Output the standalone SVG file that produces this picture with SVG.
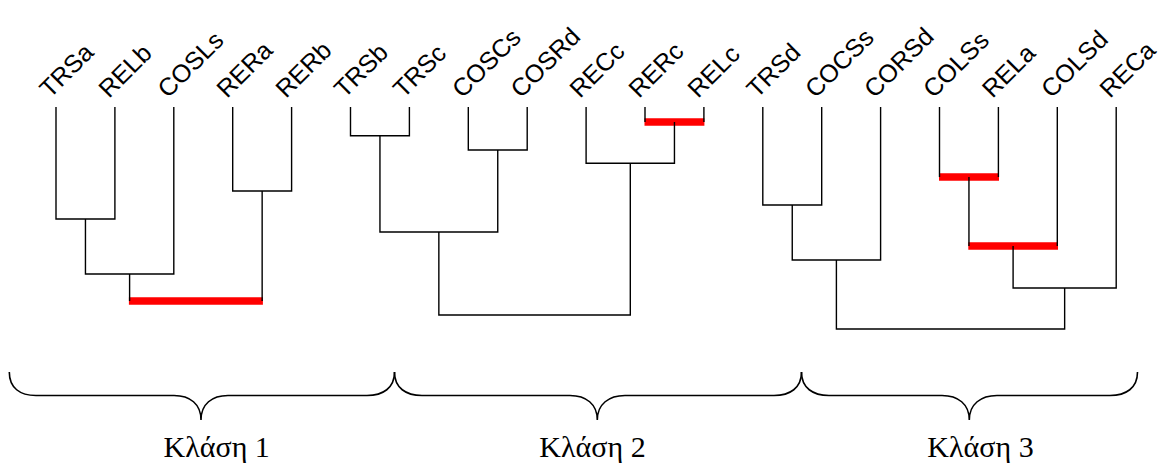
<svg xmlns="http://www.w3.org/2000/svg" width="1171" height="464" viewBox="0 0 1171 464">
  <style>
    .leaf text { font-family: "Liberation Sans", Arial, sans-serif; font-size: 25px; fill: #000; }
    .link { fill: none; stroke: #000; stroke-width: 1.4; }
    .cut { fill: none; stroke: #ff0000; stroke-width: 7.6; stroke-linecap: butt; }
    .brace { fill: none; stroke: #000; stroke-width: 1.6; }
    .cls { font-family: "Liberation Serif", "Times New Roman", serif; font-size: 30px; fill: #000; text-anchor: middle; }
  </style>
  <rect width="1171" height="464" fill="#fff"/>

  <!-- leaf labels, each turned 45 degrees about its baseline start -->
  <g class="leaf">
    <g id="leaf-TRSa" transform="translate(50,99) rotate(-45)"><text>TRSa</text></g>
    <g id="leaf-RELb" transform="translate(109,99) rotate(-45)"><text>RELb</text></g>
    <g id="leaf-COSLs" transform="translate(168,99) rotate(-45)"><text>COSLs</text></g>
    <g id="leaf-RERa" transform="translate(227,99) rotate(-45)"><text>RERa</text></g>
    <g id="leaf-RERb" transform="translate(286,99) rotate(-45)"><text>RERb</text></g>
    <g id="leaf-TRSb" transform="translate(344.5,99) rotate(-45)"><text>TRSb</text></g>
    <g id="leaf-TRSc" transform="translate(403.5,99) rotate(-45)"><text>TRSc</text></g>
    <g id="leaf-COSCs" transform="translate(462.5,99) rotate(-45)"><text>COSCs</text></g>
    <g id="leaf-COSRd" transform="translate(521,99) rotate(-45)"><text>COSRd</text></g>
    <g id="leaf-RECc" transform="translate(580,99) rotate(-45)"><text>RECc</text></g>
    <g id="leaf-RERc" transform="translate(639,99) rotate(-45)"><text>RERc</text></g>
    <g id="leaf-RELc" transform="translate(698,99) rotate(-45)"><text>RELc</text></g>
    <g id="leaf-TRSd" transform="translate(757,99) rotate(-45)"><text>TRSd</text></g>
    <g id="leaf-COCSs" transform="translate(815.5,99) rotate(-45)"><text>COCSs</text></g>
    <g id="leaf-CORSd" transform="translate(874.5,99) rotate(-45)"><text>CORSd</text></g>
    <g id="leaf-COLSs" transform="translate(933.5,99) rotate(-45)"><text>COLSs</text></g>
    <g id="leaf-RELa" transform="translate(992.5,99) rotate(-45)"><text>RELa</text></g>
    <g id="leaf-COLSd" transform="translate(1051.5,99) rotate(-45)"><text>COLSd</text></g>
    <g id="leaf-RECa" transform="translate(1110,99) rotate(-45)"><text>RECa</text></g>
  </g>

  <!-- dendrogram links -->
  <g id="connectors">
    <!-- red bars mark the cut merges -->
    <line class="cut" x1="128.9" y1="301" x2="262.9" y2="301"/>
    <line class="cut" x1="644.5" y1="122" x2="704.4" y2="122"/>
    <line class="cut" x1="939" y1="177" x2="999" y2="177"/>
    <line class="cut" x1="968.3" y1="246" x2="1058" y2="246"/>

    <!-- group 1 -->
    <path class="link" d="M56,107 V219 H114.9 V107"/>
    <path class="link" d="M85.45,219 V274 H173.8 V107"/>
    <path class="link" d="M232.7,107 V191 H291.6 V107"/>
    <path class="link" d="M129.6,274 V301 M262.15,191 V301"/>

    <!-- group 2 -->
    <path class="link" d="M350.5,107 V135.7 H409.4 V107"/>
    <path class="link" d="M468.3,107 V150 H527.2 V107"/>
    <path class="link" d="M379.95,135.7 V232 H497.75 V150"/>
    <path class="link" d="M645,107 V122 M703.9,107 V122"/>
    <path class="link" d="M586.1,107 V163.3 H674.45 V122"/>
    <path class="link" d="M438.85,232 V315 H630.3 V163.3"/>

    <!-- group 3 -->
    <path class="link" d="M762.8,107 V205 H821.7 V107"/>
    <path class="link" d="M792.25,205 V260 H880.6 V107"/>
    <path class="link" d="M939.5,107 V177 M998.4,107 V177"/>
    <path class="link" d="M968.95,177 V246 M1057.3,107 V246"/>
    <path class="link" d="M1013.1,246 V288 H1116.2 V107"/>
    <path class="link" d="M836.4,260 V329 H1064.65 V288"/>
  </g>

  <!-- class braces -->
  <g id="class-1">
    <path class="brace" d="M9.3,372 C9.3,388 20,395.5 36,395.5 L174,395.5 C190,395.5 201,404 201,420 C201,404 212,395.5 228,395.5 L367,395.5 C383,395.5 394.5,388 394.5,372"/>
    <text class="cls" x="216.7" y="457">Κλάση 1</text>
  </g>
  <g id="class-2">
    <path class="brace" d="M394.5,372 C394.5,388 406,395.5 422,395.5 L570,395.5 C586,395.5 597.3,404 597.3,420 C597.3,404 609,395.5 625,395.5 L774,395.5 C790,395.5 801.5,388 801.5,372"/>
    <text class="cls" x="592.5" y="457">Κλάση 2</text>
  </g>
  <g id="class-3">
    <path class="brace" d="M801.5,372 C801.5,388 813,395.5 829,395.5 L942,395.5 C958,395.5 969.3,404 969.3,420 C969.3,404 981,395.5 997,395.5 L1110,395.5 C1126,395.5 1137.5,388 1137.5,372"/>
    <text class="cls" x="980.5" y="457">Κλάση 3</text>
  </g>
</svg>
